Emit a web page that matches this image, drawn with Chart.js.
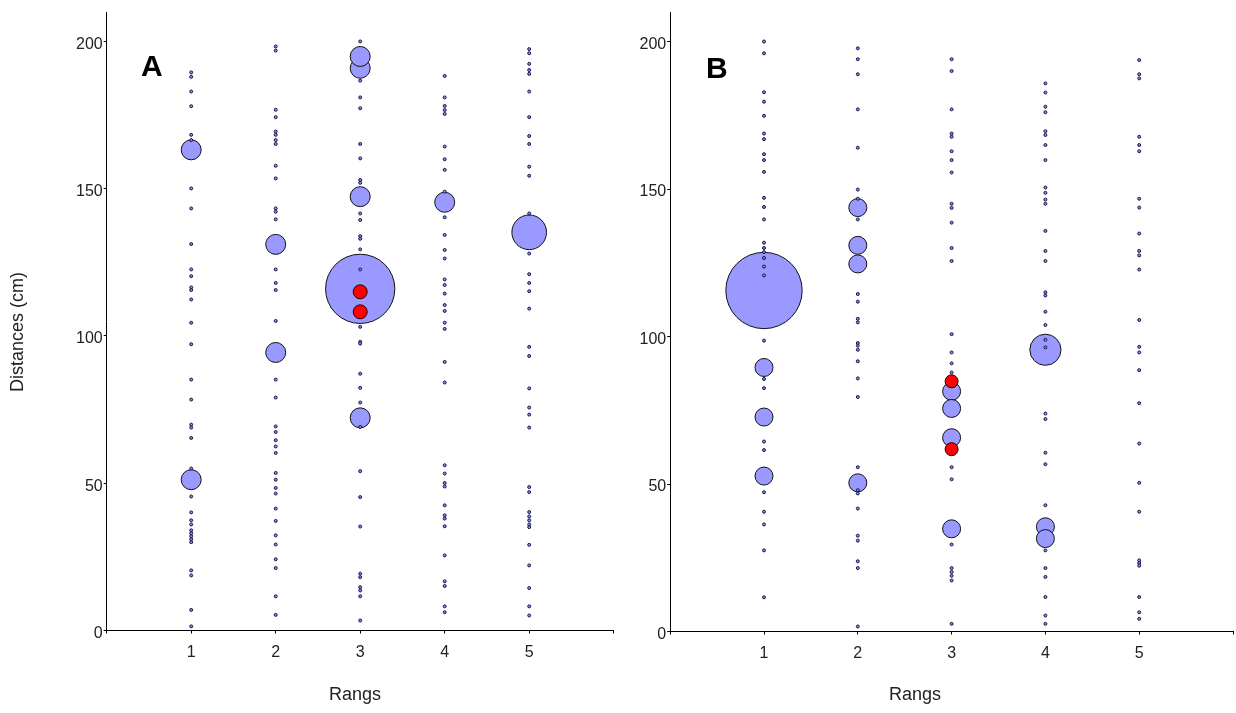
<!DOCTYPE html>
<html>
<head>
<meta charset="utf-8">
<title>Distances par rang</title>
<script src="https://cdn.jsdelivr.net/npm/chart.js@4/dist/chart.umd.min.js"></script>
<style>
  html, body { margin: 0; padding: 0; background: #fff; }
  #wrap { position: relative; width: 1236px; height: 713px; overflow: hidden; }
  #wrap canvas { position: absolute; top: 0; }
  .panel-tag { position: absolute; font: bold 30px "Liberation Sans", Arial, sans-serif; line-height: 30px; color: #000; }
</style>
</head>
<body>
<div id="wrap">
  <canvas id="chartA" width="618" height="713" style="left:0"></canvas>
  <canvas id="chartB" width="618" height="713" style="left:618px"></canvas>
  <div class="panel-tag" style="left:141px; top:51px">A</div>
  <div class="panel-tag" style="left:706px; top:53px">B</div>
</div>
<script>
// Rangs on the horizontal axis and the tick values of both axes
const rangs = [1, 2, 3, 4, 5];
const xTickValues = [0, 1, 2, 3, 4, 5, 6];
const yTickValues = [0, 50, 100, 150, 200];

// Panel A: individual distances (cm) for each rang
const distA1 = [189.5, 188, 183, 178, 168.3, 166.5, 150.1, 143.3, 131.2, 122.6, 120.3, 116.5, 115.6, 112.4, 104.5, 97.2, 85.2, 78.4, 69.9, 68.9, 65.4, 55, 45.5, 40.1, 37.4, 36, 34, 33, 32, 31, 30, 20.4, 18.7, 7, 1.4];
const distA2 = [198.3, 196.9, 176.8, 174.3, 169.4, 168.3, 166.5, 165.2, 157.8, 153.5, 143.3, 142.2, 139.6, 122.6, 118, 115.6, 105.1, 85.2, 79.1, 69.3, 67.4, 64.6, 62.5, 60.3, 53.5, 51.2, 48.4, 46.5, 41.4, 37.2, 32.3, 29.2, 24.2, 21.2, 11.6, 5.3];
const distA3 = [200, 186.7, 181, 177.3, 165.2, 160.3, 153, 152, 141.6, 139.4, 133.9, 133, 129.4, 122.6, 103.1, 98, 97.4, 87.2, 82.4, 77.4, 69.1, 54.1, 45.3, 35.3, 19.3, 18.1, 14.7, 13.6, 11.6, 3.4];
const distA4 = [188.3, 181, 178.1, 176.7, 175.4, 164.3, 160, 156.4, 149, 140.3, 134.3, 129.2, 126.3, 119.2, 117.3, 114.4, 110.5, 108.5, 104.5, 102.4, 91.2, 84.2, 56.1, 53.3, 50.1, 48.9, 42.5, 39.1, 38, 35.4, 25.5, 16.7, 15.1, 8.2, 6.2];
const distA5 = [197.4, 196, 192.4, 190.3, 189, 183, 174.3, 167.9, 165.2, 157.5, 154.4, 141.6, 128, 121, 118, 115.2, 109.3, 96.3, 93.2, 82.2, 75.7, 73.3, 68.9, 48.7, 47, 40.2, 38.7, 37.4, 36, 35.1, 29.1, 22.1, 14.4, 8.2, 5.1];

// Panel A: grouped positions (rang, distance, number of individuals)
const groupRangA  = [1, 1, 2, 2, 3, 3, 3, 3, 3, 4, 5];
const groupDistA  = [163.2, 51.2, 131.1, 94.4, 190.9, 194.9, 147.3, 116, 72.2, 145.4, 135.2];
const groupCountA = [1, 1, 1, 1, 1, 1, 1, 12, 1, 1, 3];

// Panel A: highlighted positions
const markRangA = [3, 3];
const markDistA = [115, 108.2];

// Panel B: individual distances (cm) for each rang
const distB1 = [200, 196, 182.8, 179.6, 174.8, 168.8, 166.9, 161.8, 159.8, 155.8, 147, 143.9, 139.7, 131.8, 130, 128.6, 126.6, 123.7, 120.7, 98.6, 85.6, 82.5, 64.4, 61.5, 47.2, 40.6, 36.3, 27.5, 11.6];
const distB2 = [197.7, 194, 188.9, 177, 164, 149.8, 146.7, 139.7, 114.4, 111.8, 106, 104.8, 97.8, 96.9, 95.5, 91.6, 85.8, 79.5, 55.7, 47.9, 46.8, 41.7, 32.5, 30.8, 23.8, 21.5, 1.7];
const distB3 = [194, 190, 177, 168.8, 167.7, 162.8, 159.8, 155.6, 145, 143.6, 138.6, 130, 125.6, 100.8, 94.6, 90.9, 87.8, 55.7, 51.6, 29.5, 21.5, 20.2, 18.9, 17.3, 2.6];
const distB4 = [185.8, 182.7, 177.9, 176, 169.6, 168.3, 164.9, 159.8, 150.5, 148.7, 146.4, 145, 135.8, 129, 125.6, 115, 113.9, 108.4, 103.9, 98.9, 96.3, 73.9, 72, 60.6, 56.7, 42.8, 27.5, 21.5, 18.5, 11.7, 5.4, 2.6];
const distB5 = [193.7, 188.9, 187.5, 167.7, 164.9, 162.8, 146.7, 143.7, 134.9, 129, 127.5, 122.7, 105.6, 96.5, 94.6, 88.6, 77.4, 63.7, 50.4, 40.6, 24.1, 23.2, 22.3, 11.7, 6.5, 4.3];

// Panel B: grouped positions (rang, distance, number of individuals)
const groupRangB  = [1, 1, 1, 1, 2, 2, 2, 2, 3, 3, 3, 3, 4, 4, 4];
const groupDistB  = [115.6, 89.5, 72.7, 52.7, 143.7, 130.9, 124.6, 50.4, 81.4, 75.6, 65.7, 34.8, 95.5, 35.5, 31.5];
const groupCountB = [18, 1, 1, 1, 1, 1, 1, 1, 1, 1, 1, 1, 3, 1, 1];

// Panel B: highlighted positions
const markRangB = [3, 3];
const markDistB = [84.8, 61.8];

const FONT_FAMILY = '"Liberation Sans", Arial, sans-serif';
const TICK_FONT = { family: FONT_FAMILY, size: 16 };
const TEXT_COLOR = '#222';

// Axis titles placed freely on the canvas (horizontal or rotated)
const axisTitlePlugin = {
  id: 'axisTitles',
  afterDraw(chart, args, opts) {
    const ctx = chart.ctx;
    ctx.save();
    ctx.fillStyle = TEXT_COLOR;
    ctx.font = '18px ' + FONT_FAMILY;
    ctx.textAlign = 'center';
    ctx.textBaseline = 'middle';
    (opts.items || []).forEach(item => {
      ctx.save();
      ctx.translate(item.x, item.y);
      ctx.rotate(item.rotation || 0);
      ctx.fillText(item.text, 0, 0);
      ctx.restore();
    });
    ctx.restore();
  }
};

function buildPanel(canvasId, columns, group, marks, look) {
  const dots = [];
  columns.forEach((values, i) => {
    values.forEach(v => dots.push({ x: rangs[i], y: v, r: 1.5 }));
  });
  const groups = group.rang.map((x, i) => ({ x: x, y: group.dist[i], r: look.unitRadius * Math.sqrt(group.count[i]) }));
  const marked = marks.rang.map((x, i) => ({ x: x, y: marks.dist[i], r: look.markRadius }));

  const axisGrid = { display: true, drawOnChartArea: false, drawTicks: true, tickLength: 3, color: '#000', lineWidth: 1 };
  const axisBorder = { display: true, color: '#000', width: 1 };

  return new Chart(document.getElementById(canvasId), {
    type: 'bubble',
    plugins: [axisTitlePlugin],
    data: {
      datasets: [
        { label: 'marked', data: marked, backgroundColor: '#ff0000', borderColor: '#2a0000', borderWidth: 1 },
        { label: 'individuals', data: dots, backgroundColor: '#8c8ce6', borderColor: '#14144a', borderWidth: 1 },
        { label: 'groups', data: groups, backgroundColor: '#9999ff', borderColor: '#111111', borderWidth: 1 }
      ]
    },
    options: {
      responsive: false,
      animation: false,
      events: [],
      layout: { autoPadding: false, padding: { top: look.padTop, right: look.padRight, bottom: 0, left: 0 } },
      plugins: {
        legend: { display: false },
        tooltip: { enabled: false },
        axisTitles: { items: look.titles }
      },
      scales: {
        x: {
          type: 'linear', min: 0, max: 6,
          afterBuildTicks: s => { s.ticks = xTickValues.map(v => ({ value: v })); },
          afterFit: s => { s.height = look.xAxisHeight; s.paddingLeft = 0; s.paddingRight = 0; },
          ticks: {
            autoSkip: false, maxRotation: 0, padding: 9, color: TEXT_COLOR, font: TICK_FONT,
            callback: v => (v >= 1 && v <= 5) ? String(v) : ''
          },
          grid: axisGrid,
          border: axisBorder
        },
        y: {
          type: 'linear', min: 0, max: 210,
          afterBuildTicks: s => { s.ticks = yTickValues.map(v => ({ value: v })); },
          afterFit: s => { s.width = look.yAxisWidth; s.paddingTop = 0; s.paddingBottom = 0; },
          ticks: { padding: 1, labelOffset: 3, color: TEXT_COLOR, font: TICK_FONT },
          grid: axisGrid,
          border: axisBorder
        }
      }
    }
  });
}

buildPanel('chartA',
  [distA1, distA2, distA3, distA4, distA5],
  { rang: groupRangA, dist: groupDistA, count: groupCountA },
  { rang: markRangA, dist: markDistA },
  { unitRadius: 10, markRadius: 7, yAxisWidth: 106.7, xAxisHeight: 82.5, padTop: 12, padRight: 4.3,
    titles: [
      { text: 'Rangs', x: 355, y: 695 },
      { text: 'Distances (cm)', x: 18, y: 332, rotation: -Math.PI / 2 }
    ] });

buildPanel('chartB',
  [distB1, distB2, distB3, distB4, distB5],
  { rang: groupRangB, dist: groupDistB, count: groupCountB },
  { rang: markRangB, dist: markDistB },
  { unitRadius: 9, markRadius: 6.5, yAxisWidth: 52.2, xAxisHeight: 81.5, padTop: 12, padRight: 3,
    titles: [
      { text: 'Rangs', x: 297, y: 695 }
    ] });
</script>
</body>
</html>
